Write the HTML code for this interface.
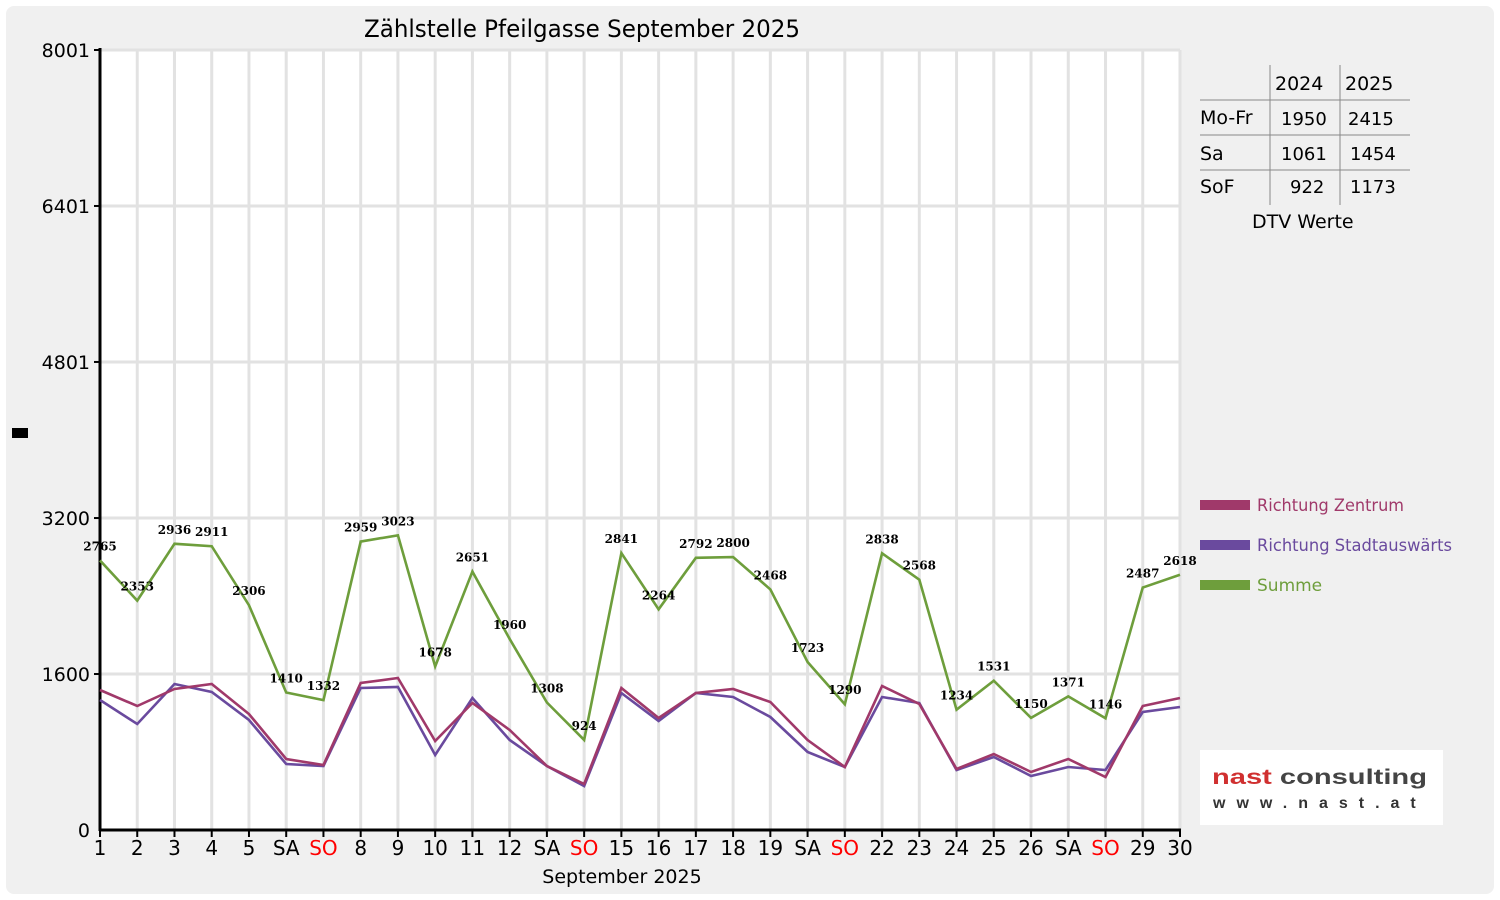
<!DOCTYPE html>
<html><head><meta charset="utf-8"><style>
body{margin:0;background:#fff;}
svg{display:block;font-family:"DejaVu Sans","Liberation Sans",sans-serif;}
</style></head><body>
<svg id="s" width="1500" height="900" xmlns="http://www.w3.org/2000/svg">
<rect x="6" y="6" width="1488" height="888" rx="8" fill="#f0f0f0"/>
<rect x="100" y="50" width="1080" height="780" fill="#fff"/>
<text x="582" y="37" font-size="24" text-anchor="middle" fill="#000" textLength="436" lengthAdjust="spacingAndGlyphs">Zählstelle Pfeilgasse September 2025</text>
<g id="g"></g>
<text x="622" y="883" font-size="19" text-anchor="middle">September 2025</text>
<rect x="12" y="428" width="16" height="10" fill="#000"/>
<g font-size="19" fill="#000">
<line x1="1270" y1="65" x2="1270" y2="205" stroke="#888"/>
<line x1="1340" y1="65" x2="1340" y2="205" stroke="#888"/>
<line x1="1200" y1="100" x2="1410" y2="100" stroke="#888"/>
<line x1="1200" y1="135" x2="1410" y2="135" stroke="#888"/>
<line x1="1200" y1="170" x2="1410" y2="170" stroke="#888"/>
<text x="1275" y="90">2024</text><text x="1345" y="90">2025</text>
<text x="1200" y="124">Mo-Fr</text><text x="1281" y="125" font-size="18">1950</text><text x="1348" y="125" font-size="18">2415</text>
<text x="1200" y="160">Sa</text><text x="1281" y="160" font-size="18">1061</text><text x="1350" y="160" font-size="18">1454</text>
<text x="1200" y="193">SoF</text><text x="1290" y="193" font-size="18">922</text><text x="1350" y="193" font-size="18">1173</text>
<text x="1252" y="228">DTV Werte</text>
</g>
<g font-size="17">
<rect x="1200" y="500" width="50" height="10" fill="#a0396a"/><text x="1257" y="511" fill="#a0396a" textLength="147" lengthAdjust="spacingAndGlyphs">Richtung Zentrum</text>
<rect x="1200" y="540" width="50" height="10" fill="#6a4a9e"/><text x="1257" y="551" fill="#6a4a9e" textLength="195" lengthAdjust="spacingAndGlyphs">Richtung Stadtauswärts</text>
<rect x="1200" y="580" width="50" height="10" fill="#6e9e3c"/><text x="1257" y="591" fill="#6e9e3c">Summe</text>
</g>
<rect x="1200" y="750" width="243" height="75" fill="#fff"/>
<text x="1212" y="784" font-size="21" font-weight="900" fill="#d03030" font-family="Liberation Sans,sans-serif" textLength="215" lengthAdjust="spacingAndGlyphs">nast <tspan fill="#444">consulting</tspan></text>
<text x="1213" y="808" font-size="16" font-weight="bold" fill="#333" letter-spacing="11" font-family="Liberation Sans,sans-serif">www.nast.at</text>
</svg>
<script>
var g=document.getElementById('g'),h='';
var X=function(i){return 100+i*1080/29};
var Y=function(v){return 830-v*780/8001};
for(var i=0;i<30;i++){h+='<line x1="'+X(i)+'" y1="50" x2="'+X(i)+'" y2="830" stroke="#e2e2e2" stroke-width="3"/>';}
[1600,3200,4801,6401,8001].forEach(function(v){h+='<line x1="100" y1="'+Y(v)+'" x2="1180" y2="'+Y(v)+'" stroke="#e2e2e2" stroke-width="3"/>';
h+='<text x="90" y="'+(Y(v)+7)+'" font-size="19" text-anchor="end">'+v+'</text><line x1="94" y1="'+Y(v)+'" x2="100" y2="'+Y(v)+'" stroke="#000" stroke-width="2"/>';});
h+='<text x="90" y="837" font-size="19" text-anchor="end">0</text>';
h+='<line x1="100" y1="48" x2="100" y2="831" stroke="#000" stroke-width="3"/><line x1="99" y1="830" x2="1181" y2="830" stroke="#000" stroke-width="3"/>';
var labs=['1','2','3','4','5','SA','SO','8','9','10','11','12','SA','SO','15','16','17','18','19','SA','SO','22','23','24','25','26','SA','SO','29','30'];
labs.forEach(function(l,i){h+='<line x1="'+X(i)+'" y1="830" x2="'+X(i)+'" y2="837" stroke="#000" stroke-width="2"/><text x="'+X(i)+'" y="855" font-size="20" text-anchor="middle" fill="'+(l=='SO'?'#f00':'#000')+'">'+l+'</text>';});
var Z=[690,706,689,684,714,759,765,683,678,741,703,730,766,784,688,718,693,689,702,740,767,686,704,769,754,772,759,777,706,698];
var S=[700,724,684,692,720,764,766,688,687,755,698,740,766,786,693,721,693,697,717,752,767,697,703,770,757,776,767,770,712,707];
var T=[2765,2353,2936,2911,2306,1410,1332,2959,3023,1678,2651,1960,1308,924,2841,2264,2792,2800,2468,1723,1290,2838,2568,1234,1531,1150,1371,1146,2487,2618];
function pl(a,c,f){var p=a.map(function(v,i){return X(i)+','+f(v)}).join(' ');return '<polyline points="'+p+'" fill="none" stroke="'+c+'" stroke-width="2.6"/>';}
h+=pl(S,'#6a4a9e',function(v){return v});
h+=pl(Z,'#a0396a',function(v){return v});
h+=pl(T,'#6e9e3c',Y);
T.forEach(function(v,i){h+='<text x="'+X(i)+'" y="'+(Y(v)-10)+'" font-size="12" font-weight="bold" text-anchor="middle" font-family="DejaVu Serif,serif">'+v+'</text>';});
g.innerHTML=h;
</script>
</body></html>
